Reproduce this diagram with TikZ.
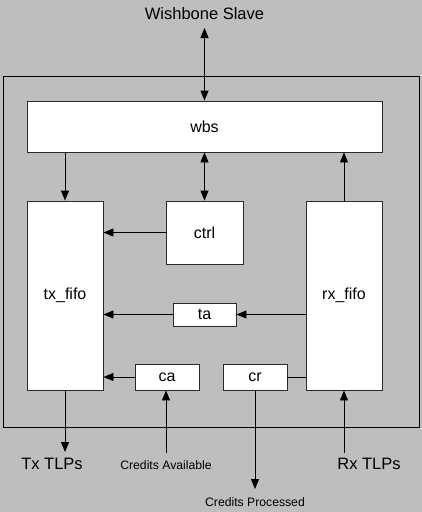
\documentclass[tikz,border=0pt]{standalone}
\usepackage{fontspec}
\setmainfont{Liberation Sans}
\usetikzlibrary{arrows.meta}
\definecolor{panel}{HTML}{BEBEBE}
\definecolor{edge}{HTML}{2A2A2A}
\begin{document}
\begin{tikzpicture}[x=1pt,y=-1pt,
  block/.style={draw=edge,fill=white,line width=0.9pt,inner sep=0pt,
    font=\fontsize{16}{18}\selectfont},
  big/.style={font=\fontsize{16.5}{18}\selectfont,inner sep=0pt},
  small/.style={font=\fontsize{12.2}{14}\selectfont,inner sep=0pt},
  link/.style={line width=0.9pt,draw=black,-{Triangle[length=10pt,width=8pt]}},
  both/.style={link,{Triangle[length=10pt,width=8pt]}-{Triangle[length=10pt,width=8pt]}},
  plain/.style={line width=0.9pt,draw=black}]
  % background and frame of the core
  \fill[panel] (0,0) rectangle (422,512);
  \useasboundingbox (0,0) rectangle (422,512);
  \draw[line width=0.9pt,draw=black] (3,76) rectangle (419,427);

  % functional blocks
  \node[block,minimum width=355pt,minimum height=51pt] (wbs) at (204.5,126.5) {wbs};
  \node[block,minimum width=76pt,minimum height=189pt] (tx) at (65,295.5) {tx\_fifo};
  \node[block,minimum width=76pt,minimum height=189pt] (rx) at (344,295.5) {rx\_fifo};
  \node[block,minimum width=77pt,minimum height=63pt] (ctrl) at (204.5,232.5) {ctrl};
  \node[block,minimum width=63pt,minimum height=23pt] (ta) at (204.5,314.5) {ta};
  \node[block,minimum width=64pt,minimum height=26pt] (ca) at (167,377) {ca};
  \node[block,minimum width=64pt,minimum height=26pt] (cr) at (255,377) {cr};

  % external labels
  \node[big] (wslab) at (204.5,14) {Wishbone Slave};
  \node[big] (txlab) at (52,464) {Tx TLPs};
  \node[big] (rxlab) at (369,464) {Rx TLPs};
  \node[small] (calab) at (166,465) {Credits Available};
  \node[small] (crlab) at (255,502) {Credits Processed};

  % loose ends of the external connections
  \coordinate (wsend) at (204.5,28);
  \coordinate (txend) at (65,452);
  \coordinate (rxend) at (344,453);
  \coordinate (caend) at (166,453);
  \coordinate (crend) at (255,489);

  % connections
  \draw[both] (wsend) -- (wbs.north);
  \draw[link] (tx.north |- wbs.south) -- (tx.north);
  \draw[both] (wbs.south) -- (ctrl.north);
  \draw[link] (rx.north) -- (rx.north |- wbs.south);
  \draw[link] (ctrl.west) -- (tx.east |- ctrl.west);
  \draw[link] (rx.west |- ta.east) -- (ta.east);
  \draw[link] (ta.west) -- (tx.east |- ta.west);
  \draw[link] (ca.west) -- (tx.east |- ca.west);
  \draw[plain] (cr.east) -- (rx.west |- cr.east);
  \draw[link] (tx.south) -- (txend);
  \draw[link] (caend) -- (caend |- ca.south);
  \draw[link] (cr.south) -- (crend);
  \draw[link] (rxend) -- (rx.south);
\end{tikzpicture}
\end{document}
